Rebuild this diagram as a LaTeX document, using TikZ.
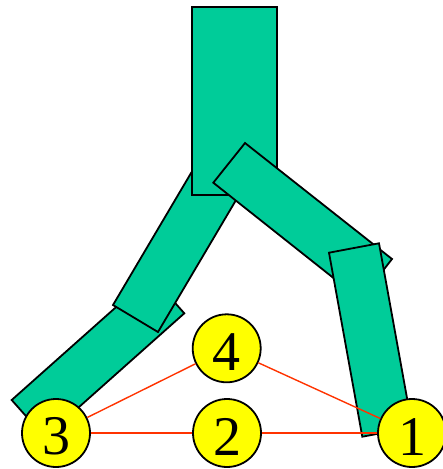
\documentclass[tikz,border=0pt]{standalone}
\usepackage{fontspec}
\setmainfont{Liberation Serif}
\definecolor{legfill}{RGB}{0,204,153}
\definecolor{ballfill}{RGB}{255,255,0}
\definecolor{linkred}{RGB}{255,51,0}
\begin{document}
\begin{tikzpicture}[x=1pt,y=-1pt,
  leg/.style={draw=black,fill=legfill,line width=1.8pt,line join=miter},
  ball/.style={circle,draw=black,fill=ballfill,line width=1.8pt,
    minimum size=68pt,inner sep=0pt,text height=44pt,
    font=\fontsize{56}{56}\selectfont},
  link/.style={draw=linkred,line width=1.4pt}]
\useasboundingbox (0,0) rectangle (443,469);
\clip (0,0) rectangle (443,469);
% lower left segment
\draw[leg] (11.7,400) -- (151.1,275.9) -- (184.3,313.3) -- (44.9,437.4) -- cycle;
% upper left segment
\draw[leg] (113,305) -- (158,332) -- (247,181.5) -- (202,154.5) -- cycle;
% trunk
\draw[leg] (192,7) rectangle (277,195);
% upper right segment
\draw[leg] (245,143) -- (392,259) -- (360.6,299.5) -- (213.3,182.7) -- cycle;
% lower right segment
\draw[leg] (329,252.7) -- (379,243.3) -- (412.3,427.3) -- (362.3,436.7) -- cycle;
% numbered joints
\node[ball] (n1) at (412,433) {1};
\node[ball] (n2) at (227,433) {2};
\node[ball] (n3) at (56,433) {3};
\node[ball] (n4) at (226.7,348.3) {4};
% connections
\draw[link] (n3) -- (n4);
\draw[link] (n3) -- (n2);
\draw[link] (n2) -- (n1);
\draw[link] (n4) -- (n1);
\end{tikzpicture}
\end{document}
